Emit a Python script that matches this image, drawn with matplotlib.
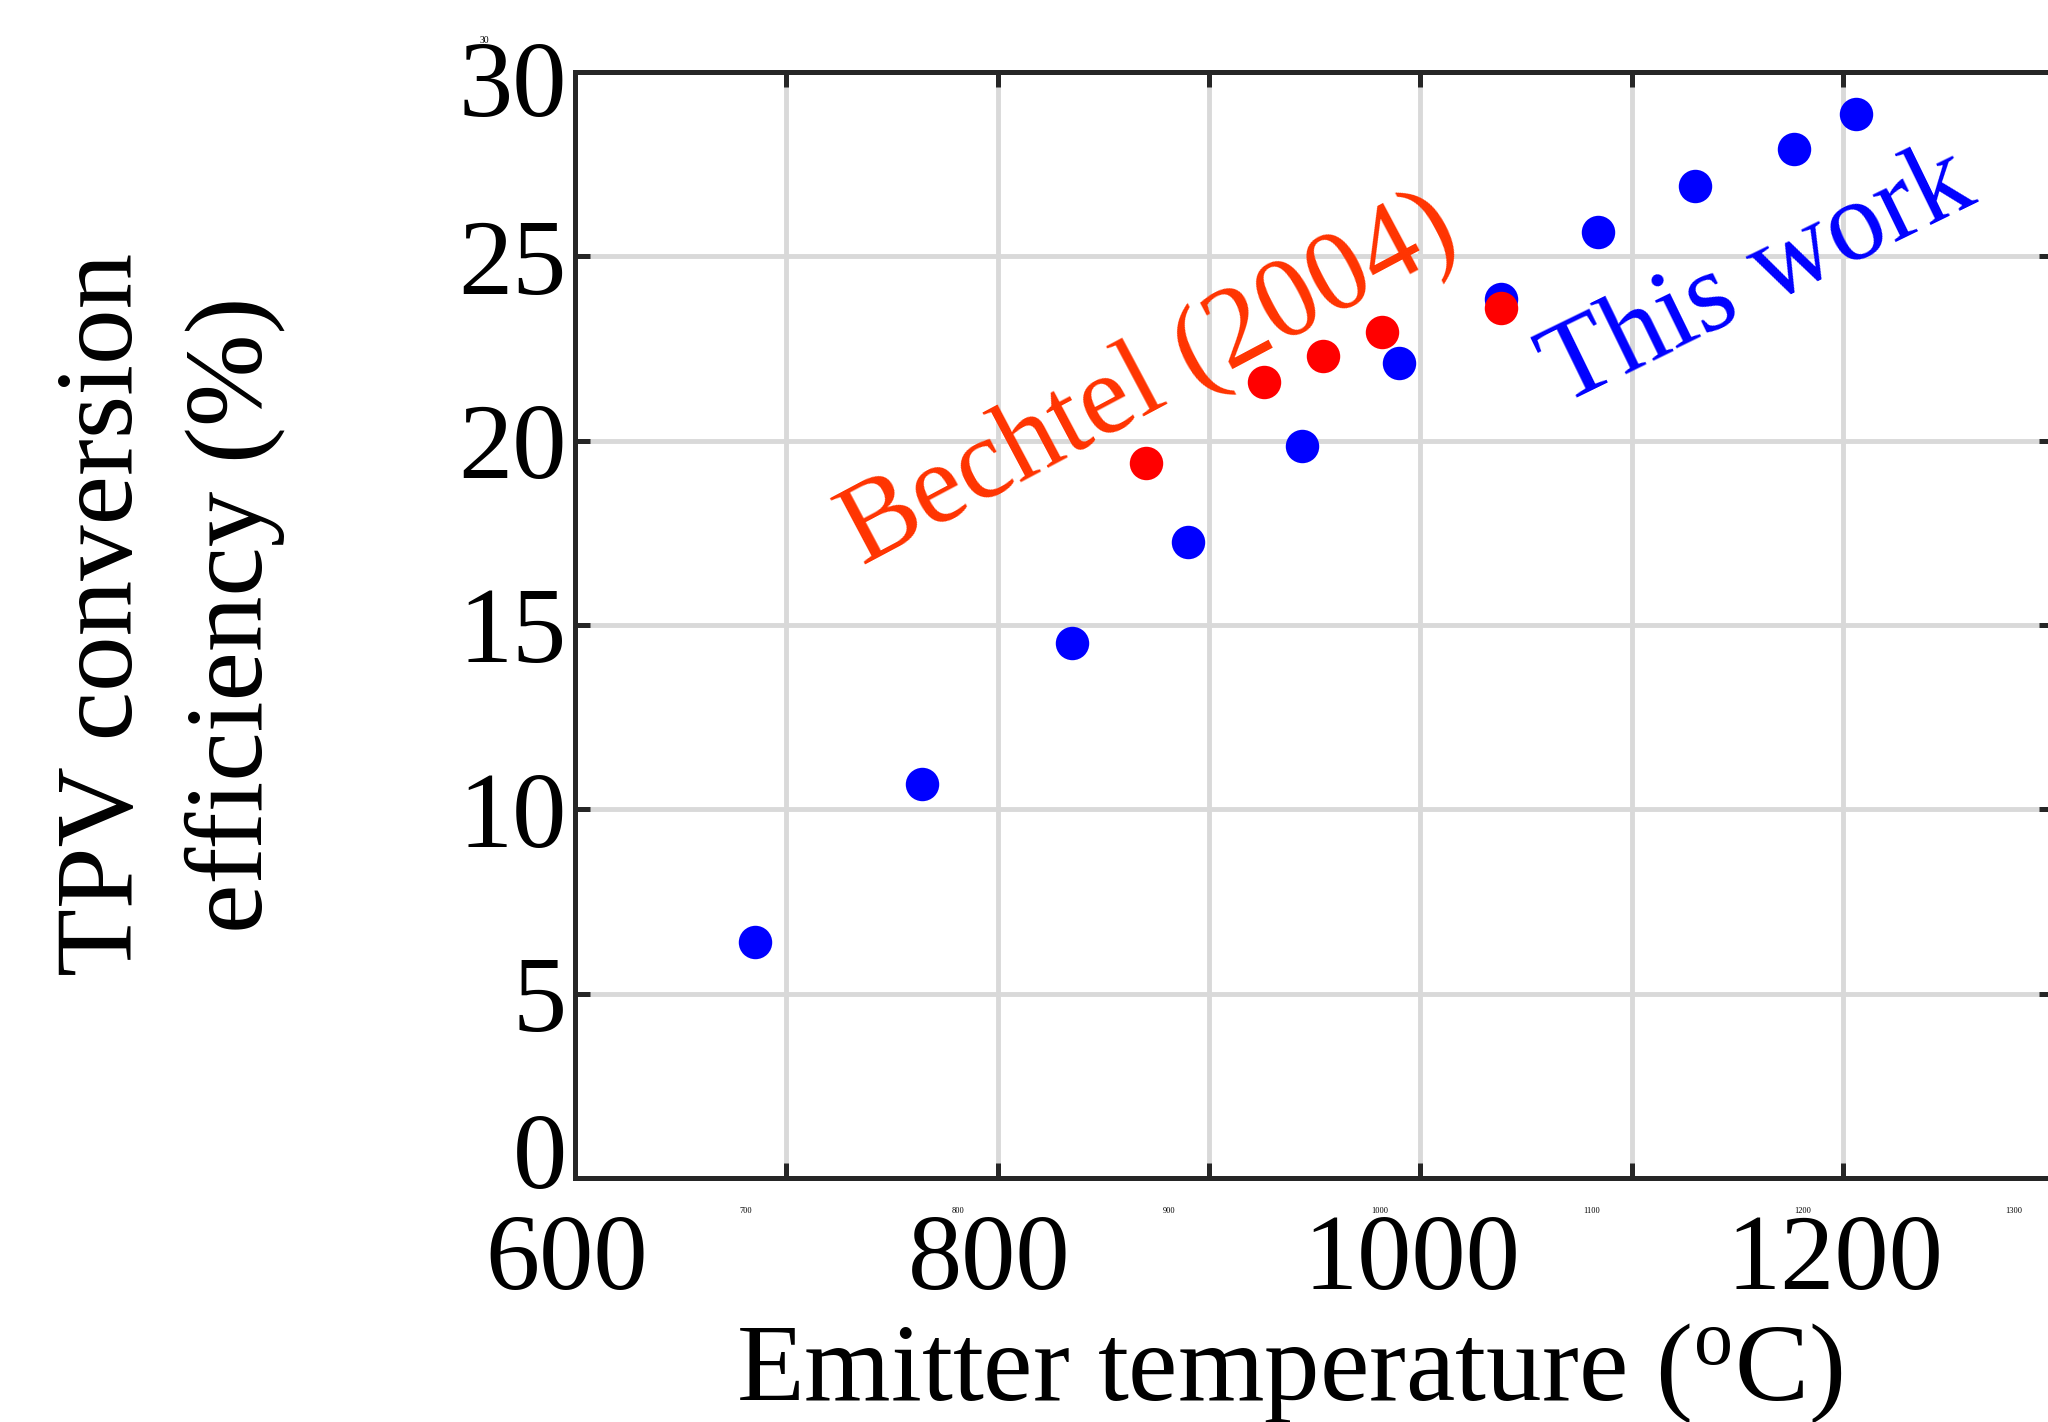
import matplotlib
matplotlib.use("Agg")
import matplotlib.pyplot as plt
import matplotlib.transforms as mtransforms

plt.rcParams['font.family'] = ['Liberation Serif', 'DejaVu Serif']
plt.rcParams['mathtext.fontset'] = 'custom'
plt.rcParams['mathtext.rm'] = 'Liberation Serif'

# this work
temp_this = [685, 764, 835, 890, 944, 990, 1038, 1084, 1130, 1177, 1206]
eff_this = [6.4, 10.7, 14.5, 17.25, 19.85, 22.1, 23.85, 25.65, 26.9, 27.9, 28.85]

# Bechtel (2004)
temp_bech = [870, 926, 954, 982, 1038]
eff_bech = [19.4, 21.6, 22.3, 22.95, 23.6]

xticks = [600, 700, 800, 900, 1000, 1100, 1200, 1300]
xbig = ['600', '', '800', '', '1000', '', '1200', '']
xsmall = [700, 800, 900, 1000, 1100, 1200, 1300]
yticks = [0, 5, 10, 15, 20, 25, 30]

fig = plt.figure(figsize=(20.48, 14.22), dpi=100)
ax = fig.add_axes([0.2808, 0.1716, 0.7222, 0.7778])

ax.scatter(temp_this, eff_this, s=580, color='#0000ff', linewidths=0, zorder=3)
ax.scatter(temp_bech, eff_bech, s=580, color='#ff0000', linewidths=0, zorder=4)

ax.text(872, 21.6, 'Bechtel (2004)', color='#ff3300', fontsize=82, rotation=28,
        ha='center', va='center', rotation_mode='anchor', zorder=5)
ax.text(1160, 24.4, 'This work', color='#0000ff', fontsize=82, rotation=26,
        ha='center', va='center', rotation_mode='anchor', zorder=5)

ax.set_xlim(600, 1300)
ax.set_ylim(0, 30)
ax.set_xticks(xticks)
ax.set_xticklabels(xbig)
ax.set_yticks(yticks)
ax.grid(True, color='#d9d9d9', linewidth=3.5, zorder=0)
ax.set_axisbelow(True)

for s in ax.spines.values():
    s.set_linewidth(3.6)
    s.set_color('#262626')
ax.tick_params(direction='in', length=11, width=3.6, color='#262626',
               top=True, right=True, labelsize=78)
ax.tick_params(axis='x', pad=26)
ax.tick_params(axis='y', pad=6)

# nudge tick labels a little, as in the original export
for lab in ax.get_xticklabels():
    lab.set_transform(lab.get_transform() +
                      mtransforms.ScaledTranslation(-6 / 72, 0, fig.dpi_scale_trans))
ylabs = ax.get_yticklabels()
ylabs[0].set_transform(ylabs[0].get_transform() +
                       mtransforms.ScaledTranslation(0, 20 / 72, fig.dpi_scale_trans))
ylabs[-1].set_transform(ylabs[-1].get_transform() +
                        mtransforms.ScaledTranslation(0, -5 / 72, fig.dpi_scale_trans))

# tiny duplicate tick labels from the original export
tr = mtransforms.blended_transform_factory(ax.transData, ax.transAxes)
for v in xsmall:
    ax.text(v - 19, -0.03, str(v), fontsize=6, ha='center', va='center',
            transform=tr, clip_on=False)
ax.text(-0.061, 1.028, '30', fontsize=7, ha='center', va='center',
        transform=ax.transAxes, clip_on=False)

ax.set_xlabel(r'Emitter temperature ($\mathregular{^o}$C)', fontsize=80, va='center')
ax.xaxis.set_label_coords(0.483, -0.176)
fig.text(0.083, 0.568, 'TPV conversion\nefficiency (%)', fontsize=80, rotation=90,
         ha='center', va='center', multialignment='center', linespacing=1.38)

plt.savefig('out.png', dpi=100)
